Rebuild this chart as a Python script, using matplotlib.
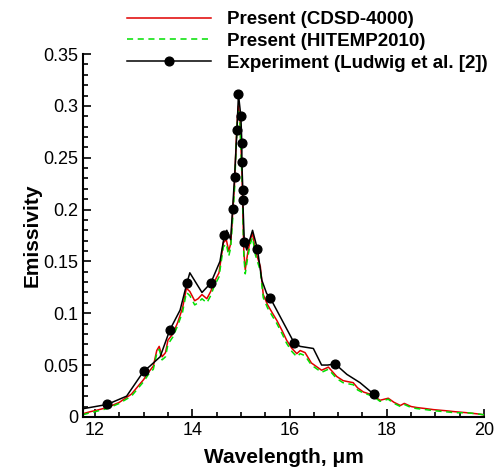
import matplotlib.pyplot as plt
from matplotlib.lines import Line2D
from matplotlib.ticker import MultipleLocator

# Computed spectra (CDSD-4000 and HITEMP2010)
wl = [11.75, 11.9, 12.0, 12.25, 12.5, 12.75, 13.0, 13.1, 13.2, 13.27, 13.32, 13.38, 13.45,
      13.5, 13.6, 13.7, 13.8, 13.88, 13.95, 14.05, 14.12, 14.2, 14.3, 14.38, 14.45, 14.55,
      14.64, 14.7, 14.75, 14.79, 14.83, 14.87, 14.9, 14.93, 14.95, 14.98, 15.0, 15.02, 15.04,
      15.06, 15.09, 15.14, 15.2, 15.24, 15.3, 15.4, 15.46, 15.55, 15.65, 15.74, 15.85, 15.94,
      16.05, 16.15, 16.22, 16.32, 16.45, 16.57, 16.66, 16.8, 16.97, 17.1, 17.2, 17.31, 17.4,
      17.52, 17.65, 17.75, 17.86, 18.03, 18.15, 18.28, 18.36, 18.5, 18.62, 18.8, 18.96, 19.2,
      19.4, 19.65, 19.85, 20.0]
cdsd = [0.003, 0.005, 0.006, 0.009, 0.014, 0.022, 0.036, 0.043, 0.049, 0.064, 0.068, 0.058, 0.062,
        0.074, 0.080, 0.091, 0.105, 0.124, 0.121, 0.112, 0.114, 0.118, 0.114, 0.121, 0.130, 0.139,
        0.168, 0.171, 0.160, 0.167, 0.195, 0.225, 0.262, 0.290, 0.300, 0.288, 0.262, 0.238, 0.200,
        0.160, 0.142, 0.158, 0.172, 0.177, 0.160, 0.145, 0.118, 0.108, 0.100, 0.093, 0.083, 0.074,
        0.066, 0.061, 0.064, 0.062, 0.052, 0.048, 0.045, 0.048, 0.039, 0.035, 0.034, 0.033, 0.028,
        0.024, 0.022, 0.020, 0.016, 0.018, 0.014, 0.011, 0.013, 0.010, 0.009, 0.008, 0.007, 0.006,
        0.005, 0.004, 0.003, 0.002]
hitemp = [0.002, 0.004, 0.005, 0.008, 0.013, 0.020, 0.034, 0.041, 0.046, 0.061, 0.065, 0.055, 0.058,
          0.070, 0.077, 0.088, 0.101, 0.120, 0.117, 0.108, 0.110, 0.114, 0.110, 0.117, 0.126, 0.135,
          0.164, 0.167, 0.155, 0.163, 0.190, 0.220, 0.258, 0.287, 0.297, 0.285, 0.258, 0.234, 0.196,
          0.155, 0.138, 0.154, 0.168, 0.173, 0.156, 0.141, 0.115, 0.105, 0.097, 0.090, 0.080, 0.071,
          0.063, 0.058, 0.061, 0.059, 0.050, 0.046, 0.043, 0.046, 0.037, 0.033, 0.032, 0.031, 0.026,
          0.023, 0.021, 0.019, 0.015, 0.017, 0.013, 0.010, 0.012, 0.009, 0.008, 0.007, 0.006, 0.005,
          0.004, 0.004, 0.003, 0.002]

# Experiment (Ludwig et al.) - continuous curve and marked points
exp_wl = [11.77, 12.25, 12.65, 13.0, 13.13, 13.34, 13.54, 13.75, 13.89, 13.95, 14.2, 14.38, 14.57,
          14.66, 14.71, 14.79, 14.83, 14.87, 14.92, 14.95, 15.0, 15.02, 15.02, 15.04, 15.04, 15.07,
          15.12, 15.24, 15.34, 15.43, 15.53, 15.6, 16.1, 16.22, 16.49, 16.66, 16.78, 16.94, 17.18,
          17.45, 17.73]
exp_em = [0.008, 0.012, 0.020, 0.044, 0.049, 0.058, 0.084, 0.103, 0.129, 0.139, 0.120, 0.129, 0.150,
          0.175, 0.180, 0.171, 0.201, 0.231, 0.277, 0.311, 0.290, 0.264, 0.246, 0.219, 0.209, 0.169,
          0.161, 0.180, 0.162, 0.132, 0.119, 0.115, 0.071, 0.068, 0.066, 0.050, 0.050, 0.051, 0.041,
          0.033, 0.022]
pts_wl = [12.25, 13.0, 13.54, 13.89, 14.38, 14.66, 14.83, 14.87, 14.92, 14.95, 15.0, 15.02, 15.02,
          15.04, 15.04, 15.07, 15.34, 15.6, 16.1, 16.94, 17.73]
pts_em = [0.012, 0.044, 0.084, 0.129, 0.129, 0.175, 0.201, 0.231, 0.277, 0.311, 0.290, 0.264, 0.246,
          0.219, 0.209, 0.169, 0.162, 0.115, 0.071, 0.051, 0.022]

plt.rcParams['font.family'] = 'Liberation Sans'

fig = plt.figure(figsize=(4.99, 4.70), dpi=100)
ax = fig.add_axes([0.166, 0.113, 0.804, 0.772])

ax.plot(wl, cdsd, color='#e00000', lw=1.1)
ax.plot(wl, hitemp, color='#00e000', lw=1.1, ls=(0, (4, 3)))
ax.plot(exp_wl, exp_em, color='black', lw=1.1)
ax.plot(pts_wl, pts_em, 'o', color='black', ms=6.3)

ax.set_xlim(11.75, 20)
ax.set_ylim(0, 0.35)
ax.xaxis.set_major_locator(MultipleLocator(2))
ax.xaxis.set_minor_locator(MultipleLocator(0.5))
ax.yaxis.set_major_locator(MultipleLocator(0.05))
ax.yaxis.set_minor_locator(MultipleLocator(0.01))
ax.yaxis.set_major_formatter(plt.FuncFormatter(lambda v, p: f'{v:g}'))

for s in ['top', 'right']:
    ax.spines[s].set_visible(False)
for s in ['left', 'bottom']:
    ax.spines[s].set_linewidth(1.5)
ax.tick_params(which='both', direction='in', labelsize=13, width=1.2)
ax.tick_params(which='major', length=6)
ax.tick_params(which='minor', length=3.5)

ax.set_xlabel('Wavelength, μm', fontsize=15, fontweight='bold', labelpad=7)
ax.set_ylabel('Emissivity', fontsize=15, fontweight='bold', labelpad=1)

handles = [Line2D([], [], color='#e00000', lw=1.1),
           Line2D([], [], color='#00e000', lw=1.1, ls=(0, (4, 3))),
           Line2D([], [], color='black', lw=1.1, marker='o', ms=6.3)]
labels = ['Present (CDSD-4000)', 'Present (HITEMP2010)', 'Experiment (Ludwig et al. [2])']
fig.legend(handles, labels, loc='upper left', bbox_to_anchor=(127 / 499, 1 - 11 / 470),
           frameon=False, borderpad=0, handlelength=4.5, handletextpad=0.85,
           labelspacing=0.25, borderaxespad=0,
           prop={'size': 13.5, 'weight': 'bold'})

fig.savefig('out.png', dpi=100)
